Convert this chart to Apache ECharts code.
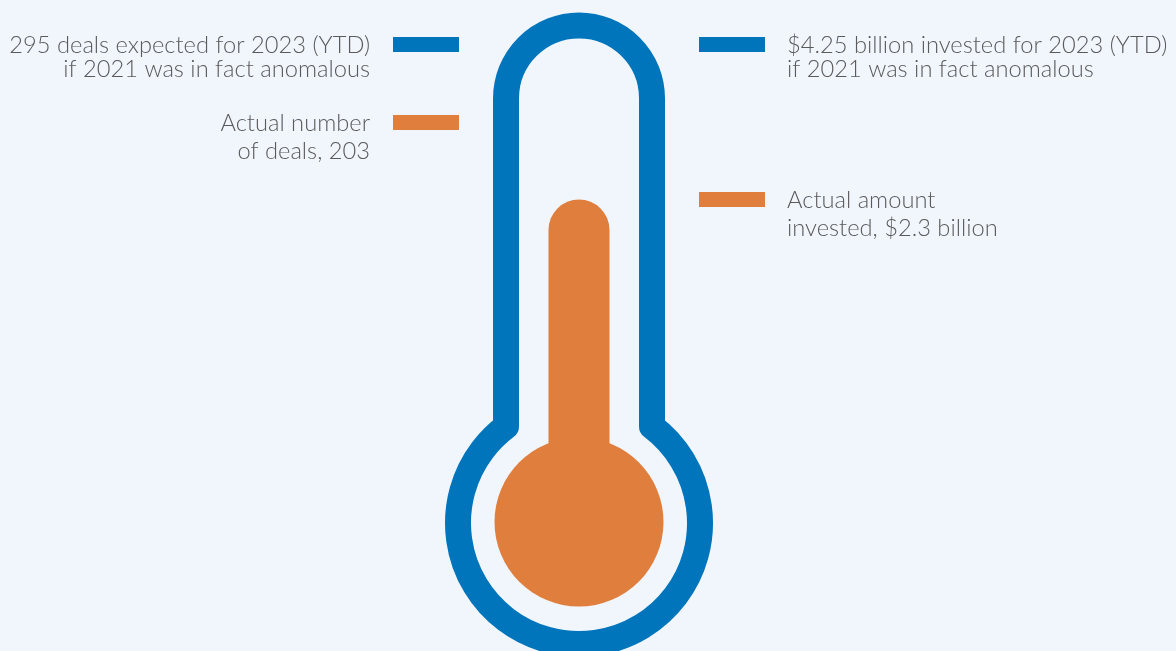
<!DOCTYPE html>
<html>
<head>
<meta charset="utf-8">
<script src="https://cdn.jsdelivr.net/npm/echarts@6/dist/echarts.min.js"></script>
<style>
  html, body { margin: 0; padding: 0; background: #F1F6FD; }
  #chart { width: 1176px; height: 651px; }
</style>
</head>
<body>
<div id="chart"></div>
<script>
// ---- Data ----
const categories = ['Deals', 'Investment'];
const kinds = ['expected', 'actual'];
const dealValues = [295, 203];          // number of deals: expected, actual
const investValues = [4.25, 2.3];       // $ billions: expected, actual
const dealLabels = [
  '295 deals expected for 2023 (YTD)\nif 2021 was in fact anomalous',
  'Actual number\nof deals, 203'
];
const investLabels = [
  '$4.25 billion invested for 2023 (YTD)\nif 2021 was in fact anomalous',
  'Actual amount\ninvested, $2.3 billion'
];
const thermometerFill = [2.3];          // actual amount invested, $ billions

// ---- Styles ----
const BLUE = '#0075BC';
const ORANGE = '#E07F3D';
const TEXT = '#5A5A5A';
const FONT = { fontFamily: 'Lato', fontWeight: 300, fontSize: 23.7 };

const chart = echarts.init(document.getElementById('chart'));

function markerRender(labels, side) {
  return function (params, api) {
    const i = params.dataIndex;
    const p = api.coord([api.value(0), api.value(1)]);
    const kind = kinds[i];
    const color = kind === 'expected' ? BLUE : ORANGE;
    const lh = kind === 'expected' ? 23.5 : 27.5;
    const textX = side === 'left' ? p[0] - 33 - 23 : p[0] + 33 + 22;
    return {
      type: 'group',
      children: [
        { type: 'rect', shape: { x: p[0] - 33, y: p[1] - 7.5, width: 66, height: 15 }, style: { fill: color } },
        {
          type: 'text',
          style: Object.assign({
            text: labels[i], x: textX, y: p[1] - lh / 2 + 1,
            align: side === 'left' ? 'right' : 'left', verticalAlign: 'top',
            fill: TEXT, lineHeight: lh
          }, FONT)
        }
      ]
    };
  };
}

function thermoRender(params, api) {
  const cx = (api.coord([0, 0])[0] + api.coord([1, 0])[0]) / 2;
  const top = api.coord([1, api.value(1)])[1];
  const tubeR = 73, tubeCy = 98.5, ringR = 121, ringCy = 523;
  const dy = Math.sqrt(ringR * ringR - tubeR * tubeR);
  const jy = ringCy - dy;
  const xl = cx - tubeR, xr = cx + tubeR;
  const pathData =
    'M' + xl + ',' + jy +
    ' L' + xl + ',' + tubeCy +
    ' A' + tubeR + ',' + tubeR + ' 0 0 1 ' + xr + ',' + tubeCy +
    ' L' + xr + ',' + jy +
    ' A' + ringR + ',' + ringR + ' 0 1 1 ' + xl + ',' + jy + ' Z';
  const stemW = 61, bulbR = 84.5, bulbCy = 522;
  return {
    type: 'group',
    children: [
      { type: 'path', shape: { pathData: pathData }, style: { fill: null, stroke: BLUE, lineWidth: 26, lineJoin: 'round' } },
      { type: 'rect', shape: { x: cx - stemW / 2, y: top, width: stemW, height: bulbCy - top, r: [stemW / 2, stemW / 2, 0, 0] }, style: { fill: ORANGE } },
      { type: 'circle', shape: { cx: cx, cy: bulbCy, r: bulbR }, style: { fill: ORANGE } }
    ]
  };
}

chart.setOption({
  backgroundColor: '#F1F6FD',
  animation: false,
  grid: { left: 273, width: 612, top: 0, height: 651 },
  xAxis: { type: 'category', data: categories, show: false },
  yAxis: [
    { type: 'value', min: -420.4, max: 347.5, show: false },
    { type: 'value', min: -3.38, max: 4.81, show: false }
  ],
  series: [
    {
      type: 'custom', name: 'Thermometer', yAxisIndex: 1, clip: false,
      data: thermometerFill.map(v => [1, v]),
      renderItem: thermoRender
    },
    {
      type: 'custom', name: 'Deals', yAxisIndex: 0, clip: false,
      data: dealValues.map(v => [0, v]),
      renderItem: markerRender(dealLabels, 'left')
    },
    {
      type: 'custom', name: 'Investment', yAxisIndex: 1, clip: false,
      data: investValues.map(v => [1, v]),
      renderItem: markerRender(investLabels, 'right')
    }
  ]
});
</script>
</body>
</html>
